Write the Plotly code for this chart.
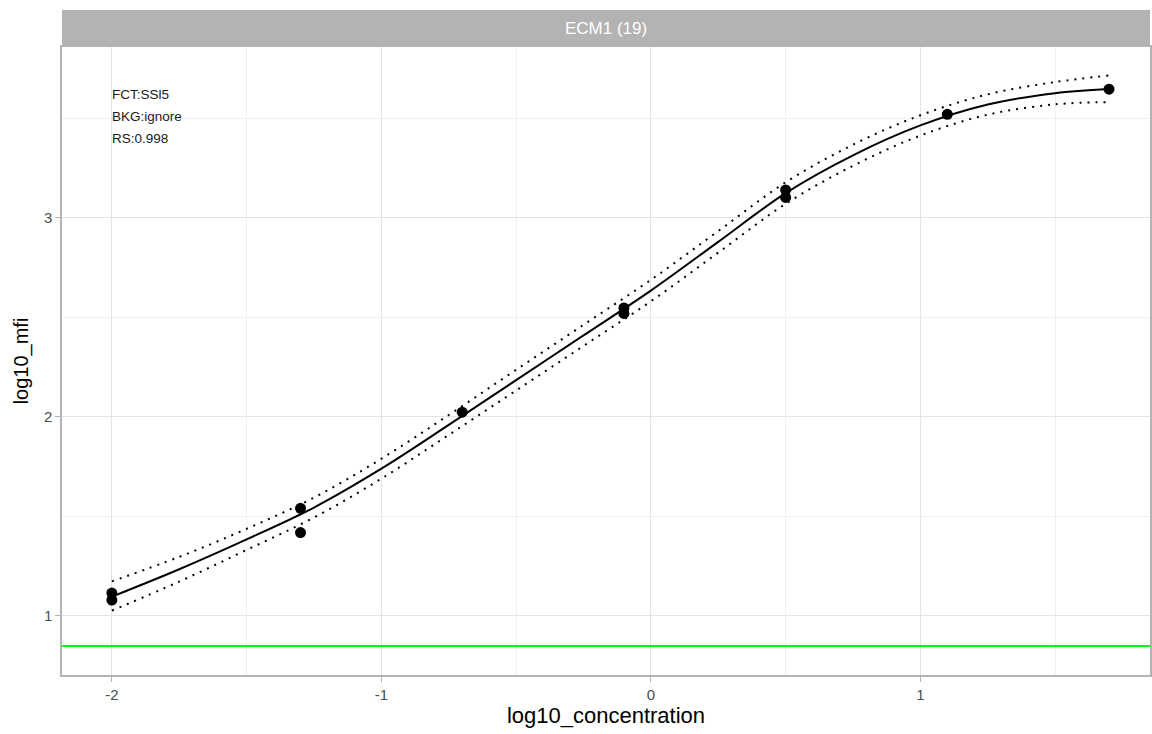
import plotly.graph_objects as go

# Observed data points
pt_x = [-2.0, -2.0, -1.3, -1.3, -0.7, -0.1, -0.1, 0.5, 0.5, 1.1, 1.7]
pt_y = [1.115, 1.080, 1.541, 1.419, 2.024, 2.548, 2.520, 3.141, 3.103, 3.521, 3.647]

# Fitted curve and confidence band
fit_x = [-2.0, -1.75, -1.5, -1.25, -1.0, -0.75, -0.5, -0.25, 0.0, 0.25, 0.5, 0.75, 1.0, 1.25, 1.5, 1.7]
fit_y = [1.097, 1.235, 1.385, 1.545, 1.74, 1.96, 2.185, 2.41, 2.635, 2.88, 3.125, 3.315, 3.465, 3.57, 3.627, 3.648]
upper_y = [1.174, 1.297, 1.438, 1.595, 1.79, 2.01, 2.237, 2.463, 2.689, 2.934, 3.179, 3.368, 3.516, 3.621, 3.683, 3.716]
lower_y = [1.027, 1.173, 1.332, 1.495, 1.69, 1.91, 2.133, 2.357, 2.581, 2.826, 3.071, 3.262, 3.414, 3.519, 3.571, 3.582]

background_level = 0.849

x_ticks = [-2, -1, 0, 1]
x_tick_text = ["-2", "-1", "0", "1"]
y_ticks = [1, 2, 3]
y_tick_text = ["1", "2", "3"]

strip_title = "ECM1 (19)"
info_lines = ["FCT:SSl5", "BKG:ignore", "RS:0.998"]

FONT = "Liberation Sans, Arial, sans-serif"
W, H = 1152, 734
ml, mr, mt, mb = 62, 0, 47, 59
ph = H - mt - mb

fig = go.Figure()

fig.add_trace(go.Scatter(x=fit_x, y=upper_y, mode="lines", line=dict(color="black", width=2, dash="2px,6px", shape="spline"), hoverinfo="skip"))
fig.add_trace(go.Scatter(x=fit_x, y=lower_y, mode="lines", line=dict(color="black", width=2, dash="2px,6px", shape="spline"), hoverinfo="skip"))
fig.add_trace(go.Scatter(x=fit_x, y=fit_y, mode="lines", line=dict(color="black", width=2, shape="spline")))
fig.add_trace(go.Scatter(x=pt_x, y=pt_y, mode="markers", marker=dict(color="black", size=11)))

fig.add_hline(y=background_level, line=dict(color="#00FF00", width=2))

# facet strip
fig.add_shape(type="rect", xref="paper", yref="paper", x0=0, x1=1, y0=1, y1=1 + 37 / ph,
              fillcolor="#B3B3B3", line=dict(width=0), layer="above")
fig.add_annotation(text=strip_title, xref="paper", yref="paper", x=0.5, y=1 + 18.5 / ph,
                   showarrow=False, font=dict(family=FONT, size=17, color="white"), yanchor="middle")

for i, line in enumerate(info_lines):
    fig.add_annotation(text=line, xref="x", yref="paper", x=-2.0, y=1 - (48 + 21.5 * i) / ph,
                       xanchor="left", yanchor="middle", showarrow=False, xshift=-2,
                       font=dict(family=FONT, size=13.5, color="#1a1a1a"))

grid = "#E3E3E3"
fig.update_layout(
    width=W, height=H,
    margin=dict(l=ml, r=mr, t=mt, b=mb),
    plot_bgcolor="white", paper_bgcolor="white",
    showlegend=False,
    font=dict(family=FONT),
    xaxis=dict(range=[-2.185, 1.852], tickvals=x_ticks, ticktext=x_tick_text,
               showgrid=True, gridcolor=grid, gridwidth=1,
               minor=dict(dtick=0.5, showgrid=True, gridcolor="#EFEFEF", gridwidth=1),
               zeroline=False, showline=True, linecolor="#B3B3B3", linewidth=1.5, mirror=True,
               ticks="outside", ticklen=5, tickcolor="#B3B3B3",
               tickfont=dict(family=FONT, size=15, color="#4D4D4D"),
               title=dict(text="log10_concentration", font=dict(family=FONT, size=22, color="black"), standoff=6)),
    yaxis=dict(range=[0.7035, 3.859], tickvals=y_ticks, ticktext=y_tick_text,
               showgrid=True, gridcolor=grid, gridwidth=1,
               minor=dict(dtick=0.5, showgrid=True, gridcolor="#EFEFEF", gridwidth=1),
               zeroline=False, showline=True, linecolor="#B3B3B3", linewidth=1.5, mirror=True,
               ticks="outside", ticklen=5, tickcolor="#B3B3B3",
               tickfont=dict(family=FONT, size=15, color="#4D4D4D"),
               title=dict(text="log10_mfi", font=dict(family=FONT, size=20, color="black"), standoff=10)),
)

fig.write_html("out.html")
